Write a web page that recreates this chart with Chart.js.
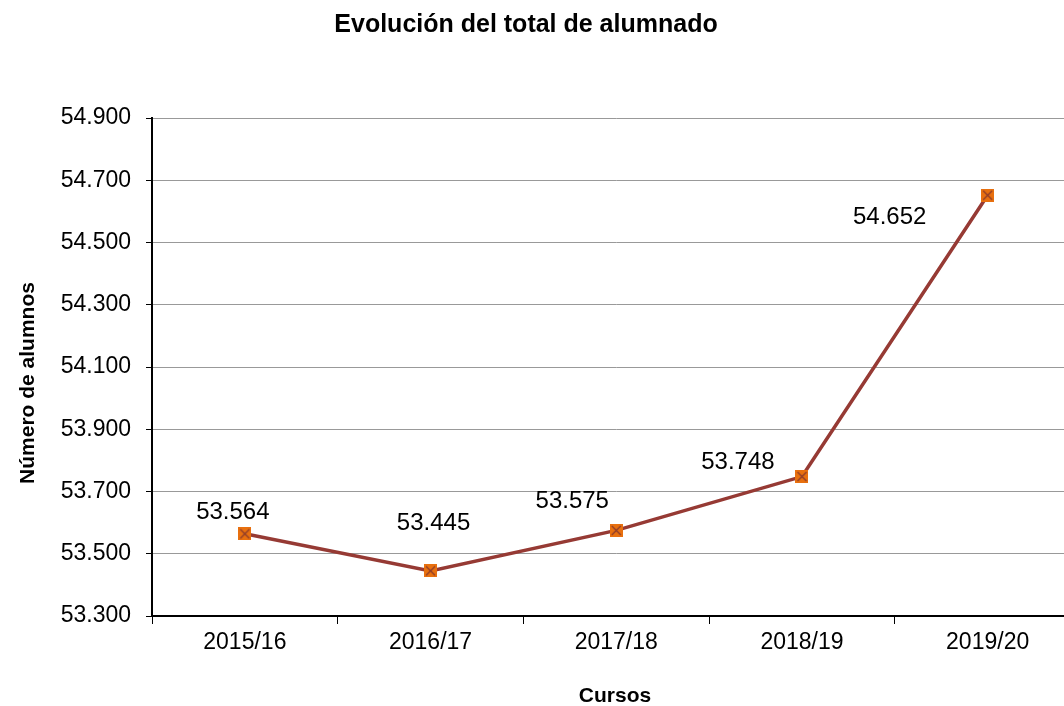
<!DOCTYPE html>
<html lang="es">
<head>
<meta charset="utf-8">
<title>Evolución del total de alumnado</title>
<script src="https://cdn.jsdelivr.net/npm/chart.js@4/dist/chart.umd.min.js"></script>
<style>
    html, body { margin: 0; padding: 0; background: #fff; overflow: hidden; }
    #wrap { width: 1090px; height: 706px; }
</style>
</head>
<body>
<div id="wrap"><canvas id="alumnadoChart" width="1090" height="706"></canvas></div>
<script>
// Datos
const cursos = ['2015/16', '2016/17', '2017/18', '2018/19', '2019/20'];
const alumnos = [53564, 53445, 53575, 53748, 54652];
const yMin = 53300;
const yMax = 54900;
const yStep = 200;

const tituloGrafico = 'Evolución del total de alumnado';
const tituloX = 'Cursos';
const tituloY = 'Número de alumnos';

// Desplazamiento de cada etiqueta respecto a su punto (px)
const labelOffsets = [[-12, -21], [3, -47], [-44, -29], [-64, -14], [-98, 22]];

const FONT = '"Liberation Sans", Arial, sans-serif';

// Formato con punto de miles
function fmt(n) {
    return String(n).replace(/\B(?=(\d{3})+(?!\d))/g, '.');
}

// Marcador: cuadrado naranja con aspa
function makeMarker() {
    const c = document.createElement('canvas');
    c.width = 13;
    c.height = 13;
    const g = c.getContext('2d');
    g.fillStyle = '#e8700f';
    g.fillRect(0, 0, 13, 13);
    g.strokeStyle = '#8a3a2c';
    g.lineWidth = 1.2;
    g.beginPath();
    g.moveTo(2, 2); g.lineTo(11, 11);
    g.moveTo(11, 2); g.lineTo(2, 11);
    g.stroke();
    return c;
}

// Títulos y etiquetas de datos
const textPlugin = {
    id: 'textos',
    afterDraw(chart) {
        const ctx = chart.ctx;
        ctx.save();
        ctx.fillStyle = '#000';
        ctx.textAlign = 'center';
        ctx.textBaseline = 'middle';

        ctx.font = 'bold 25px ' + FONT;
        ctx.fillText(tituloGrafico, 526, 25);

        ctx.font = 'bold 21px ' + FONT;
        ctx.fillText(tituloX, 615, 696);

        ctx.save();
        ctx.translate(28, 383);
        ctx.rotate(-Math.PI / 2);
        ctx.fillText(tituloY, 0, 0);
        ctx.restore();

        ctx.font = '24px ' + FONT;
        const meta = chart.getDatasetMeta(0);
        meta.data.forEach((pt, i) => {
            const off = labelOffsets[i];
            ctx.fillText(fmt(alumnos[i]), pt.x + off[0], pt.y + off[1]);
        });
        ctx.restore();
    }
};

const ctx = document.getElementById('alumnadoChart').getContext('2d');

new Chart(ctx, {
    type: 'line',
    data: {
        labels: cursos,
        datasets: [{
            label: 'Alumnos',
            data: alumnos,
            borderColor: '#963a34',
            borderWidth: 3.5,
            fill: false,
            tension: 0,
            pointStyle: makeMarker(),
            pointRadius: 6
        }]
    },
    options: {
        responsive: false,
        animation: false,
        layout: { padding: { top: 118, left: 0, right: 0, bottom: 0 } },
        plugins: {
            legend: { display: false },
            tooltip: { enabled: false }
        },
        scales: {
            x: {
                offset: true,
                grid: {
                    offset: true,
                    drawOnChartArea: false,
                    tickLength: 8,
                    tickColor: '#000'
                },
                border: { color: '#000', width: 2 },
                ticks: {
                    color: '#000',
                    padding: 5,
                    font: { family: FONT, size: 23 }
                },
                afterFit(scale) { scale.height = 90; }
            },
            y: {
                min: yMin,
                max: yMax,
                grid: {
                    color: '#999',
                    lineWidth: 1,
                    tickLength: 6,
                    tickColor: '#000'
                },
                border: { color: '#000', width: 2 },
                ticks: {
                    stepSize: yStep,
                    color: '#000',
                    padding: 15,
                    font: { family: FONT, size: 23 },
                    callback: v => fmt(v)
                },
                afterFit(scale) { scale.width = 152; }
            }
        }
    },
    plugins: [textPlugin]
});
</script>
</body>
</html>
